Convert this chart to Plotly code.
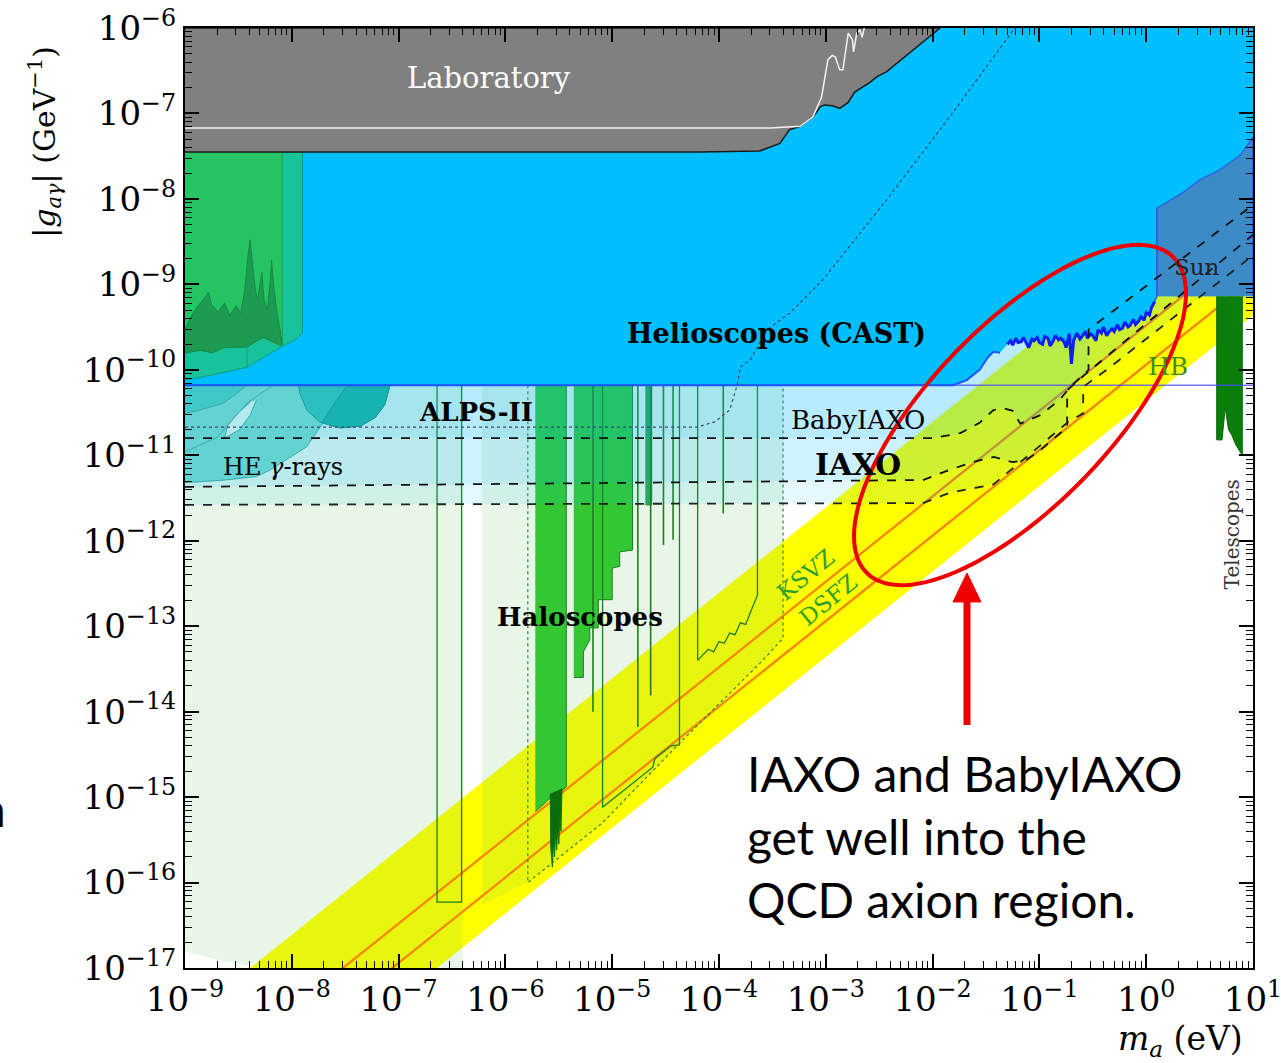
import numpy as np
import plotly.graph_objects as go

# ---------------- data (log10 of m_a [eV] and log10 of |g| [GeV^-1]) ----------------
# tick labels
x_tickvals = [1e-9, 1e-8, 1e-7, 1e-6, 1e-5, 1e-4, 1e-3, 1e-2, 1e-1, 1e0, 1e1]
x_ticktext = ['10<sup>−9</sup>', '10<sup>−8</sup>', '10<sup>−7</sup>', '10<sup>−6</sup>', '10<sup>−5</sup>',
              '10<sup>−4</sup>', '10<sup>−3</sup>', '10<sup>−2</sup>', '10<sup>−1</sup>', '10<sup>0</sup>',
              '10<sup>1</sup>']
y_tickvals = [1e-17, 1e-16, 1e-15, 1e-14, 1e-13, 1e-12, 1e-11, 1e-10, 1e-9, 1e-8, 1e-7, 1e-6]
y_ticktext = ['10<sup>−17</sup>', '10<sup>−16</sup>', '10<sup>−15</sup>', '10<sup>−14</sup>', '10<sup>−13</sup>',
              '10<sup>−12</sup>', '10<sup>−11</sup>', '10<sup>−10</sup>', '10<sup>−9</sup>', '10<sup>−8</sup>',
              '10<sup>−7</sup>', '10<sup>−6</sup>']

# Laboratory exclusion
lab_logm = [-9.0, -1.93, -2.43, -2.52, -2.59, -2.65, -2.73, -2.79, -2.87, -2.94, -3.01, -3.05, -3.12, -3.24, -3.34, -3.43, -3.62, -4.18, -9.0]
lab_logg = [-6.0, -6.0, -6.51, -6.57, -6.64, -6.69, -6.75, -6.87, -6.94, -6.91, -6.90, -6.92, -7.04, -7.15, -7.19, -7.35, -7.44, -7.45, -7.45]
labline_logm = [-9.0, -3.52, -3.24, -3.12, -3.04, -2.98, -2.94, -2.91, -2.87, -2.84, -2.79, -2.75, -2.74, -2.71, -2.68, -2.66, -2.64]
labline_logg = [-7.17, -7.17, -7.15, -7.04, -6.81, -6.37, -6.32, -6.34, -6.49, -6.49, -6.06, -6.14, -6.28, -6.06, -6.02, -6.11, -6.00]

# CAST
cast_rise_logm = [-9.0, -1.81, -1.68, -1.56, -1.48, -1.43, -1.37]
cast_rise_logg = [-10.18, -10.18, -10.12, -10.00, -9.85, -9.79, -9.80]
cast_noise_logm = [-1.30, -1.27, -1.25, -1.22, -1.20, -1.17, -1.15, -1.12, -1.10, -1.07,
                   -1.05, -1.02, -1.00, -0.97, -0.95, -0.92, -0.90, -0.87, -0.85, -0.82,
                   -0.80, -0.77, -0.75, -0.72, -0.70, -0.68, -0.65, -0.62, -0.60, -0.57,
                   -0.55, -0.52, -0.50, -0.47, -0.45, -0.42, -0.40, -0.37, -0.35, -0.32,
                   -0.30, -0.27, -0.25, -0.22, -0.20, -0.17, -0.15, -0.12, -0.10, -0.07,
                   -0.05, -0.02, 0.00, 0.03, 0.05, 0.08]
cast_noise_logg = [-9.70, -9.66, -9.71, -9.63, -9.68, -9.67, -9.62, -9.69, -9.74, -9.64,
                   -9.66, -9.62, -9.68, -9.70, -9.61, -9.63, -9.72, -9.66, -9.60, -9.65,
                   -9.63, -9.67, -9.74, -9.58, -9.93, -9.66, -9.57, -9.64, -9.61, -9.55,
                   -9.63, -9.58, -9.60, -9.66, -9.53, -9.57, -9.50, -9.60, -9.56, -9.52,
                   -9.55, -9.47, -9.53, -9.51, -9.44, -9.50, -9.48, -9.41, -9.47, -9.43,
                   -9.38, -9.42, -9.33, -9.36, -9.27, -9.20]
cast_end_logm = [0.10, 1.0, 1.0, -9.0]
cast_end_logg = [-9.14, -9.14, -6.0, -6.0]

# Sun
sun_logm = [0.10, 0.10, 0.34, 0.50, 0.69, 0.88, 1.00, 1.00]
sun_logg = [-9.14, -8.11, -7.93, -7.78, -7.66, -7.49, -7.28, -9.14]

# QCD axion band and models
qcd_logm = [-9.0, 1.0, 1.0, -9.0]
qcd_logg = [-17.61, -7.61, -9.36, -19.36]
ksvz_logm = [-9.0, 1.0]
ksvz_logg = [-18.48, -8.48]
dfsz_logm = [-9.0, 1.0]
dfsz_logg = [-18.94, -8.94]

# Haloscope projected (pale) regions
halo1_logm = [-9.0, -6.40, -6.40, -8.2, -8.39, -8.7, -9.0]
halo1_logg = [-10.0, -10.0, -17.05, -17.05, -16.98, -16.9, -16.81]
halo2_logm = [-6.22, -3.40, -3.40, -3.59, -4.37, -5.09, -5.79, -6.22]
halo2_logg = [-10.0, -10.0, -13.14, -13.40, -14.37, -15.30, -16.0, -16.26]

# Haloscope exclusions (filled)
barA_logm = [-5.72, -5.43, -5.43, -5.50, -5.60, -5.63, -5.72]
barA_logg = [-10.0, -10.0, -14.88, -14.95, -15.03, -15.07, -15.17]
spikeA_logm = [-5.58, -5.575, -5.56, -5.55, -5.54, -5.53, -5.52, -5.51, -5.50, -5.49, -5.48, -5.47]
spikeA_logg = [-14.96, -15.60, -15.82, -15.50, -15.70, -15.40, -15.62, -15.35, -15.55, -15.20, -15.40, -14.90]
barB_logm = [-5.36, -4.81, -4.81, -4.93, -4.93, -5.00, -5.00, -5.13, -5.13, -5.21, -5.21, -5.27, -5.27, -5.36]
barB_logg = [-10.0, -10.0, -12.11, -12.13, -12.30, -12.32, -12.69, -12.69, -13.02, -13.02, -13.16, -13.30, -13.60, -13.60]
barC_logm = [-4.69, -4.63, -4.63, -4.69]
barC_logg = [-10.0, -10.0, -11.58, -11.58]

# Haloscope outlines
rect1_logm = [-6.64, -6.64, -6.41, -6.41]
rect1_logg = [-10.18, -16.23, -16.23, -10.18]
out2_logm = [-5.09, -5.09, -4.62, -4.60, -4.45, -4.37, -4.37]
out2_logg = [-10.18, -15.12, -14.65, -14.55, -14.40, -14.39, -10.18]
out3_logm = [-4.20, -4.20, -4.10, -4.05, -4.00, -3.95, -3.90, -3.85, -3.80, -3.75, -3.70, -3.64, -3.64]
out3_logg = [-10.18, -13.40, -13.27, -13.30, -13.18, -13.20, -13.08, -13.10, -12.96, -12.98, -12.82, -12.64, -10.18]
out1_logm = [-5.79, -5.79, -5.09, -4.37, -3.59, -3.40, -3.40]
out1_logg = [-10.18, -16.0, -15.30, -14.37, -13.40, -13.14, -10.18]
thin_logm = [-4.76, -4.64, -4.52, -4.43, -3.96, -5.18]
thin_bottom_logg = [-14.18, -13.81, -12.05, -11.99, -11.68, -14.0]

# IAXO family sensitivities
babyiaxo_logm = [-9.0, -2.00, -1.74, -1.56, -1.43, -1.34, -1.25, -1.18, -0.99, -0.81, -0.71, -0.54, -0.54, 1.00]
babyiaxo_logg = [-10.80, -10.80, -10.74, -10.62, -10.47, -10.45, -10.48, -10.63, -10.53, -10.35, -10.20, -10.00, -9.53, -8.07]
iaxo_logm = [-9.0, -2.09, -1.84, -1.62, -1.43, -1.25, -1.13, -0.99, -0.74, -0.74, -0.55, 1.00]
iaxo_logg = [-11.37, -11.29, -11.17, -11.08, -11.02, -11.08, -11.06, -10.94, -10.67, -10.24, -10.03, -8.42]
iaxoplus_logm = [-9.0, -2.09, -1.84, -1.43, -1.12, -0.74, -0.59, -0.59, -0.37, 1.00]
iaxoplus_logg = [-11.58, -11.56, -11.44, -11.34, -11.02, -10.62, -10.51, -10.20, -10.00, -8.66]

# ALPS-II
alps_logm = [-9.0, -4.21, -4.04, -3.90, -3.83, -3.80, -3.71, -3.55, -3.34, -3.03, -2.43, -1.84, -1.23]
alps_logg = [-10.67, -10.67, -10.61, -10.47, -10.18, -9.97, -9.89, -9.53, -9.34, -8.95, -8.01, -7.04, -6.00]

# Telescopes
tel_logm = [0.66, 0.66, 0.71, 0.74, 0.77, 0.80, 0.84, 0.88, 0.90, 0.90]
tel_logg = [-9.14, -10.82, -10.82, -10.44, -10.70, -10.76, -10.88, -10.96, -11.00, -9.14]

# HB bound
hb_logm = [-9.0, 1.0]
hb_logg = [-10.18, -10.18]

# Low-mass astrophysical / haloscope regions on the left
tg_logm = [-9.0, -7.90, -7.90, -7.97, -8.11, -8.42, -8.74, -9.0]
tg_logg = [-7.45, -7.45, -9.57, -9.65, -9.74, -9.97, -10.06, -10.12]
g_logm = [-9.0, -8.09, -8.09, -8.11, -8.27, -8.42, -8.64, -8.74, -8.86, -9.0]
g_logg = [-7.45, -7.45, -9.71, -9.71, -9.62, -9.73, -9.74, -9.80, -9.77, -9.80]
dark_logm = [-9.0, -8.95, -8.89, -8.83, -8.78, -8.75, -8.69, -8.63, -8.58, -8.52, -8.48, -8.44, -8.41, -8.39, -8.37,
             -8.34, -8.32, -8.30, -8.28, -8.26, -8.23, -8.20, -8.19, -8.17, -8.14, -8.11, -8.09,
             -8.09, -8.11, -8.27, -8.42, -8.64, -8.74, -8.86, -8.98, -9.0]
dark_logg = [-9.53, -9.39, -9.27, -9.18, -9.09, -9.24, -9.32, -9.22, -9.36, -9.25, -9.34, -9.07, -8.66, -8.48, -8.74,
             -9.07, -9.18, -9.01, -8.86, -9.18, -9.30, -8.95, -8.72, -9.01, -9.32, -9.53, -9.67,
             -9.71, -9.71, -9.62, -9.73, -9.74, -9.80, -9.77, -9.80, -9.80]
tbig_logm = [-9.0, -7.48, -7.60, -7.67, -7.86, -8.02, -8.20, -8.33, -8.63, -8.86, -9.0]
tbig_logg = [-10.18, -10.18, -10.35, -10.55, -10.90, -11.03, -11.17, -11.25, -11.29, -11.31, -11.32]
tdark_logm = [-9.0, -8.42, -8.53, -8.64, -8.86, -9.0]
tdark_logg = [-10.18, -10.18, -10.29, -10.39, -10.47, -10.51]
tcurve_logm = [-9.0, -8.70, -8.42, -8.18]
tcurve_logg = [-10.96, -10.79, -10.39, -10.18]
thole_logm = [-8.33, -8.39, -8.49, -8.63, -8.60, -8.49, -8.39]
thole_logg = [-10.35, -10.53, -10.70, -10.80, -10.65, -10.49, -10.38]
tcirc_logm = [-7.94, -7.92, -7.86, -7.74, -7.55, -7.36, -7.22, -7.13, -7.08]
tcirc_logg = [-10.18, -10.29, -10.47, -10.61, -10.68, -10.66, -10.56, -10.41, -10.18]
tcircr_logm = [-7.48, -7.60, -7.72, -7.55, -7.36, -7.22, -7.13, -7.08]
tcircr_logg = [-10.18, -10.39, -10.62, -10.68, -10.66, -10.56, -10.41, -10.18]

# ---------------- figure ----------------
fig = go.Figure()


def P(lm, lg):
    return [10.0 ** v for v in lm], [10.0 ** v for v in lg]


def poly(lm, lg, fill, lc='rgba(0,0,0,0)', width=0.5, dash=None):
    x, y = P(lm, lg)
    fig.add_trace(go.Scatter(x=x, y=y, mode='lines', fill='toself', fillcolor=fill,
                             line=dict(color=lc, width=width, dash=dash),
                             hoverinfo='skip', showlegend=False))


def line(lm, lg, color, width=1.5, dash=None):
    x, y = P(lm, lg)
    fig.add_trace(go.Scatter(x=x, y=y, mode='lines', line=dict(color=color, width=width, dash=dash),
                             hoverinfo='skip', showlegend=False))


# QCD band
poly(qcd_logm, qcd_logg, '#ffff00')
# pale haloscope projections
poly(halo1_logm, halo1_logg, 'rgba(102,195,102,0.15)')
poly(halo2_logm, halo2_logg, 'rgba(102,195,102,0.15)')
# KSVZ / DFSZ
line(ksvz_logm, ksvz_logg, '#f28a0c', 2.4)
line(dfsz_logm, dfsz_logg, '#f28a0c', 2.4)
# haloscope bars
poly(barA_logm, barA_logg, '#33c833', '#1e7d1e', 1)
poly(spikeA_logm, spikeA_logg, '#0b6e0b', '#0b6e0b', 1)
poly(barB_logm, barB_logg, '#33c833', '#1e7d1e', 1)
poly(barC_logm, barC_logg, '#2aa84a', '#1e7d1e', 1)
for lm, lb in zip(thin_logm, thin_bottom_logg):
    line([lm, lm], [-10.18, lb], '#1e7d1e', 1.6)
line(rect1_logm, rect1_logg, '#1e7d1e', 1.3)
line(out2_logm, out2_logg, '#1e7d1e', 1.3)
line(out3_logm, out3_logg, '#1e7d1e', 1.3)
line(out1_logm, out1_logg, '#2e7d2e', 1.1, 'dot')

# IAXO family sensitivity shading (three translucent layers)
for lm, lg in [(babyiaxo_logm, babyiaxo_logg), (iaxo_logm, iaxo_logg), (iaxoplus_logm, iaxoplus_logg)]:
    poly(lm + [1.0, -9.0], lg + [-6.0, -6.0], 'rgba(0,191,255,0.10)')

# teal astrophysics blobs
poly(tbig_logm, tbig_logg, '#62d2d2', '#3aa9a9', 1)
poly(tdark_logm, tdark_logg, '#3fc8c8', '#3aa9a9', 1)
line(tcurve_logm, tcurve_logg, '#3aa9a9', 1)
poly(thole_logm, thole_logg, '#b3eaee', '#3aa9a9', 1)
poly(tcirc_logm, tcirc_logg, '#2bbfbf', '#1f9a9a', 1)
poly(tcircr_logm, tcircr_logg, '#17b2b2', '#1f9a9a', 1)

# CAST
poly(cast_rise_logm + cast_noise_logm + cast_end_logm,
     cast_rise_logg + cast_noise_logg + cast_end_logg, '#00bfff')

# left green regions
poly(tg_logm, tg_logg, '#16c39b', '#129a80', 1)
poly(g_logm, g_logg, '#25c463', '#1c9b52', 1)
poly(dark_logm, dark_logg, '#1d9b52', '#178a45', 1)
line([-8.42, -8.42], [-9.73, -9.97], '#1a9a8a', 1)

# Sun
poly(sun_logm, sun_logg, '#3d8bc6', '#2a62e0', 1.5)
# Laboratory
poly(lab_logm, lab_logg, '#808080', '#1a1a1a', 1.5)
line(labline_logm, labline_logg, '#f2f2f2', 1.5)

# Telescopes
poly(tel_logm, tel_logg, '#0a7d0a', '#0a6a0a', 1)

# HB and CAST edges
line(hb_logm, hb_logg, 'rgba(70,70,255,0.75)', 1.6)
line(cast_rise_logm, cast_rise_logg, '#1a55ff', 2)
line(cast_noise_logm, cast_noise_logg, '#0a1ef5', 3)
line([0.08, 0.10, 0.10], [-9.20, -9.14, -8.11], '#2a62e0', 1.5)

# IAXO family dashed lines
line(babyiaxo_logm, babyiaxo_logg, '#111111', 1.8, 'dash')
line(iaxo_logm, iaxo_logg, '#111111', 1.8, 'dash')
line(iaxoplus_logm, iaxoplus_logg, '#222222', 1.8, 'dash')
# ALPS-II dotted
line(alps_logm, alps_logg, '#3a4a6a', 1.2, 'dot')

# ---------------- labels ----------------
SER = 'DejaVu Serif'


def lab(text, lm, lg, size, color='black', angle=0, bold=False):
    t = '<b>' + text + '</b>' if bold else text
    fig.add_annotation(x=lm, y=lg, xref='x', yref='y', text=t, showarrow=False, textangle=angle,
                       font=dict(family=SER, size=size, color=color))


lab('Laboratory', -6.15, -6.585, 29, 'white')
lab('Helioscopes (CAST)', -3.46, -9.58, 27, bold=True)
lab('ALPS-II', -6.28, -10.49, 26, bold=True)
lab('BabyIAXO', -2.70, -10.59, 26)
lab('IAXO', -2.70, -11.11, 30, bold=True)
lab('HE <i>γ</i>-rays', -8.08, -11.14, 24)
lab('Haloscopes', -5.30, -12.89, 26, bold=True)
lab('KSVZ', -3.19, -12.40, 23, '#2e9e2e', -39)
lab('DSFZ', -2.98, -12.69, 23, '#2e9e2e', -39)
lab('HB', 0.20, -9.96, 25, '#3f8f14')
lab('Sun', 0.48, -8.80, 23, '#222222')
lab('Telescopes', 0.80, -11.93, 20, '#333333', -90)

# axis titles
fig.add_annotation(x=-0.131, y=0.879, xref='paper', yref='paper', showarrow=False, textangle=-90,
                   xanchor='center', yanchor='middle',
                   text='|<i>g</i><sub><i>aγ</i></sub>| (GeV<sup>−1</sup>)',
                   font=dict(family=SER, size=30, color='black'))
fig.add_annotation(x=0.932, y=-0.077, xref='paper', yref='paper', showarrow=False,
                   xanchor='center', yanchor='middle',
                   text='<i>m</i><sub><i>a</i></sub> (eV)',
                   font=dict(family=SER, size=33, color='black'))

# slide text
SANS = 'Lato'
for txt, yy in [('IAXO and BabyIAXO', 0.2074), ('get well into the', 0.1400), ('QCD axion region.', 0.0730)]:
    fig.add_annotation(x=0.5243, y=yy, xref='paper', yref='paper', showarrow=False, xanchor='left',
                       yanchor='middle', text=txt, font=dict(family=SANS, size=48, color='black'))
fig.add_annotation(x=-0.1657, y=0.170, xref='paper', yref='paper', showarrow=False, xanchor='right',
                   yanchor='middle', text='n', font=dict(family=SANS, size=48, color='black'))

# red ellipse (paper coordinates)
cx, cy, a, b, phi = 1020.0, 415.0, 220.0, 90.0, np.deg2rad(46)
t = np.linspace(0, 2 * np.pi, 181)
u, v = a * np.cos(t), b * np.sin(t)
pxs = cx + u * np.cos(phi) + v * np.sin(phi)
pys = cy - u * np.sin(phi) + v * np.cos(phi)
xp = (pxs - 185) / 1068.0
yp = (968 - pys) / 940.0
path = 'M ' + ' L '.join(f'{xx:.5f},{yy:.5f}' for xx, yy in zip(xp, yp)) + ' Z'
fig.add_shape(type='path', path=path, xref='paper', yref='paper', line=dict(color='#ee0000', width=4))

# red arrow
fig.add_shape(type='line', x0=0.7322, x1=0.7322, y0=0.2585, y1=0.3915, xref='paper', yref='paper',
              line=dict(color='#ee0000', width=7))
fig.add_shape(type='path', path='M 0.7191,0.3894 L 0.7453,0.3894 L 0.7322,0.4202 Z', xref='paper', yref='paper',
              fillcolor='#ee0000', line=dict(color='#ee0000', width=1))

axis_common = dict(type='log', showgrid=False, zeroline=False, showline=True, linecolor='black', linewidth=2,
                   mirror='allticks', ticks='inside', ticklen=14, tickwidth=1.5, tickcolor='black',
                   automargin=False, ticklabeloverflow='allow',
                   tickfont=dict(family=SER, size=34, color='black'),
                   minor=dict(ticks='inside', ticklen=7, tickwidth=1, tickcolor='black', dtick='D1', showgrid=False))
fig.update_xaxes(range=[-9, 1], tickmode='array', tickvals=x_tickvals, ticktext=x_ticktext, **axis_common)
fig.update_yaxes(range=[-17, -6], tickmode='array', tickvals=y_tickvals, ticktext=y_ticktext, **axis_common)
fig.update_layout(width=1281, height=1063, autosize=False, margin=dict(l=185, r=28, t=28, b=95, autoexpand=False),
                  paper_bgcolor='white', plot_bgcolor='white', showlegend=False,
                  font=dict(family=SER))

fig.write_html('out.html')
